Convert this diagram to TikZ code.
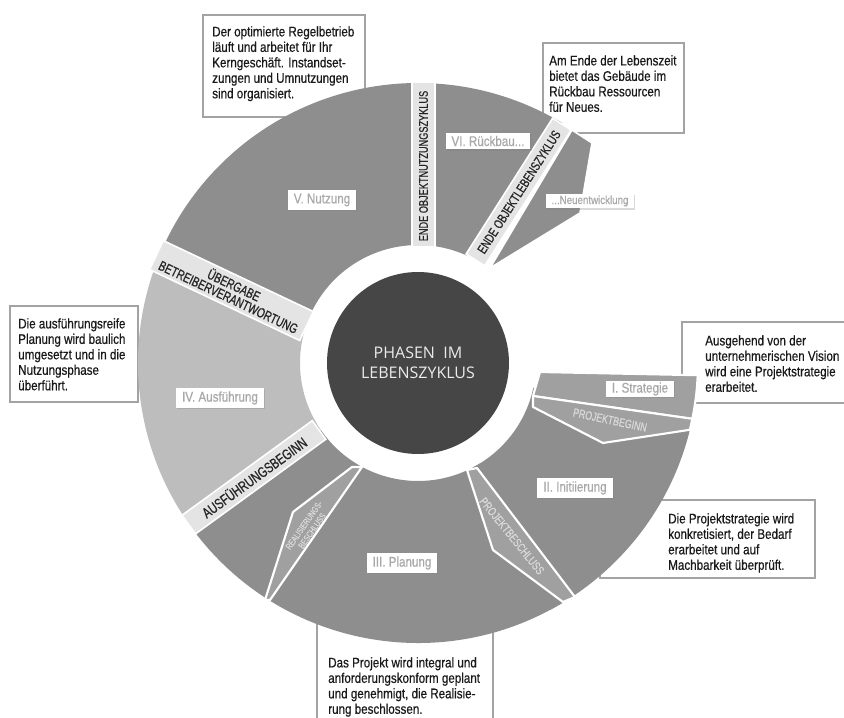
\documentclass[tikz,border=0pt]{standalone}
\usepackage{fontspec}
\setmainfont{Liberation Sans}[FakeStretch=0.83,FakeBold=0.5]
\newfontfamily\bandfont{Liberation Sans}[FakeStretch=0.74,FakeBold=0.7]
\newfontfamily\hubfont{Open Sans}
\usetikzlibrary{shadows}
\definecolor{phasegray}{HTML}{8E8E8E}
\definecolor{palegray}{HTML}{BDBDBD}
\definecolor{kitegray}{HTML}{A0A0A0}
\definecolor{bandgray}{HTML}{E4E4E4}
\definecolor{hubgray}{HTML}{464646}
\definecolor{labelgray}{HTML}{A8A8A8}
\definecolor{framegray}{HTML}{A3A3A3}
\begin{document}
\begin{tikzpicture}[x=0.75pt,y=0.75pt,
		note/.style={fill=white,draw=framegray,line width=1.2pt},
		notetext/.style={anchor=north west,inner sep=0pt,align=left,text=black!90,font=\fontsize{10.5}{11.6}\selectfont},
		kite/.style={fill=kitegray,draw=white,line width=1.6pt,line join=round},
		band/.style={fill=bandgray,draw=white,line width=1.2pt},
		bandtext/.style={inner sep=0pt,align=center,text=black!85},
		kitetext/.style={inner sep=0pt,align=center,text=white!85!black},
		phase/.style={fill=white,text=labelgray,inner xsep=4.5pt,inner ysep=2.5pt,font=\fontsize{10.5}{12}\selectfont,drop shadow={opacity=0.3,shadow xshift=0.8pt,shadow yshift=-0.8pt}}]
	\useasboundingbox (-418,-355) rectangle (426,363);
	\clip (-418,-355) rectangle (426,363);
	\draw[note] (-215,246) rectangle (-53,348);
	\draw[note] (125,230) rectangle (266,320);
	\draw[note] (-408,-39) rectangle (-280,57);
	\draw[note] (264,-40) rectangle (432,41);
	\draw[note] (182,-215) rectangle (397,-137);
	\draw[note] (-101,-367) rectangle (75,-247);
	\node[notetext] (nutzungtext) at (-206,337) {Der optimierte Regelbetrieb\\läuft und arbeitet für Ihr\\Kerngeschäft. Instandset-\\zungen und Umnutzungen\\sind organisiert.};
	\node[notetext] (rueckbautext) at (131,308) {Am Ende der Lebenszeit\\bietet das Gebäude im\\Rückbau Ressourcen\\für Neues.};
	\node[notetext] (ausfuehrungtext) at (-400,45) {Die ausführungsreife\\Planung wird baulich\\umgesetzt und in die\\Nutzungsphase\\überführt.};
	\node[notetext] (strategietext) at (287,28) {Ausgehend von der\\unternehmerischen Vision\\wird eine Projektstrategie\\erarbeitet.};
	\node[notetext] (initiierungtext) at (250,-150) {Die Projektstrategie wird\\konkretisiert, der Bedarf\\erarbeitet und auf\\Machbarkeit überprüft.};
	\node[notetext] (planungtext) at (-90,-294) {Das Projekt wird integral und\\anforderungskonform geplant\\und genehmigt, die Realisie-\\rung beschlossen.};
	\foreach \a/\b/\c in {59/89/phasegray,89/159/phasegray,159/215/palegray,215/302/phasegray,298/348/phasegray}{\fill[\c] (\a:118) -- (\a:280) arc[start angle=\a,end angle=\b,radius=280] -- (\b:118) arc[start angle=\b,end angle=\a,radius=118] -- cycle;}
	\draw[kite] (122,-9) -- (-2.5:280) arc[start angle=-2.5,end angle=-11.5,radius=280] -- (115,-33) -- cycle;
	\draw[kite] (115,-33) -- (-11.5:280) -- (-13.8:280) -- (185,-80) -- (115,-44) -- cycle;
	\draw[kite] (59,-105) -- (157,-234) -- (145,-239) -- (75,-187) -- (49,-107) -- cycle;
	\draw[kite] (-56,-104) -- (-148,-237) -- (-153,-237) -- (-125,-149) -- (-66,-104) -- cycle;
	\draw[fill=phasegray,draw=white,line width=1.2pt] (72,95) -- (154,233) -- (174,220) -- (162,150) -- cycle;
	\draw[band,shift={(5.5,116)},rotate=90] (0,-11.5) rectangle (165,11.5);
	\draw[band,shift={(57.4,103.1)},rotate=57.5] (0,-11) rectangle (161,11);
	\draw[band,shift={(-111.5,37)},rotate=154.7] (0,-16) rectangle (166,16);
	\draw[band,shift={(-99,-67)},rotate=216] (0,-11.5) rectangle (161,11.5);
	\node[bandtext,rotate=90,font=\bandfont\fontsize{9.3}{10}\selectfont] (nutzungsende) at (5.5,197) {ENDE OBJEKTNUTZUNGSZYKLUS};
	\node[bandtext,rotate=57.5,font=\bandfont\fontsize{9.8}{10}\selectfont] (lebensende) at (101,171) {ENDE OBJEKTLEBENSZYKLUS};
	\node[bandtext,rotate=-25.3,font=\bandfont\fontsize{10.3}{9.8}\selectfont] (uebergabe) at (-186.5,72.5) {ÜBERGABE\\BETREIBERVERANTWORTUNG};
	\node[bandtext,rotate=36,font=\bandfont\fontsize{11}{12}\selectfont] (ausfbeginn) at (-164,-114) {AUSFÜHRUNGSBEGINN};
	\node[kitetext,rotate=-12,font=\bandfont\fontsize{9}{10}\selectfont] (projbeginn) at (192,-57) {PROJEKTBEGINN};
	\node[kitetext,rotate=-51,font=\bandfont\fontsize{9}{10}\selectfont] (projbeschluss) at (94,-173) {PROJEKTBESCHLUSS};
	\node[kitetext,rotate=55,font=\bandfont\fontsize{6.8}{7.4}\selectfont] (realbeschluss) at (-110,-165) {REALISIERUNGS-\\BESCHLUSS};
	\foreach \x/\y/\t/\n in {-96/163/V. Nutzung/nutzung,157/-125/II. Initiierung/initiierung,-16/-200/III. Planung/planung,-198/-35/IV. Ausführung/ausfuehrung}{\node[phase] (\n) at (\x,\y) {\t};}
	\node[phase] (rueckbau) at (70,222) {VI. Rückbau...};
	\node[phase,inner ysep=1pt] (strategie) at (222,-26) {I. Strategie};
	\node[phase,inner ysep=1.5pt,font=\fontsize{8.8}{10}\selectfont] (neuentwicklung) at (172,162) {...Neuentwicklung};
	\node[circle,fill=hubgray,minimum size=136.5pt,align=center,text=white!92!black,font=\hubfont\fontsize{12}{15}\selectfont] (hub) at (0,0) {PHASEN\ \ IM\\LEBENSZYKLUS};
\end{tikzpicture}
\end{document}
